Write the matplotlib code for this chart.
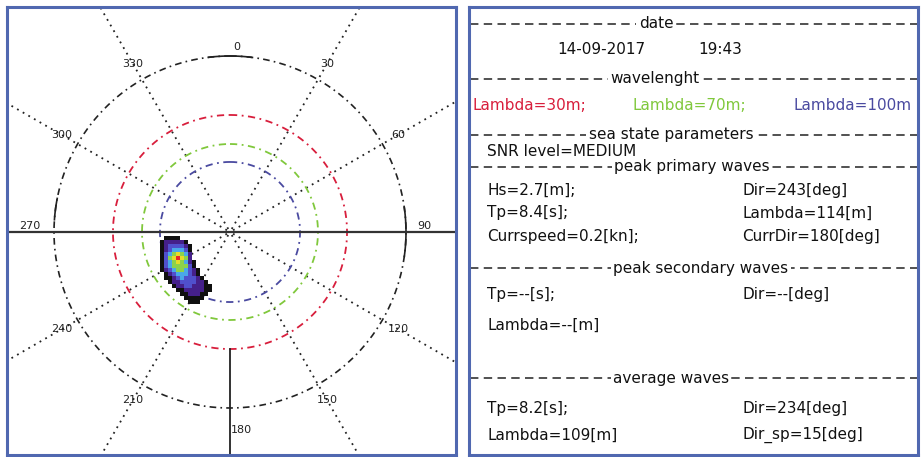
import numpy as np
import matplotlib
matplotlib.use('Agg')
import matplotlib.pyplot as plt
from matplotlib.colors import ListedColormap, BoundaryNorm

# ---------------- data ----------------
compass_angles = [0, 30, 60, 90, 120, 150, 180, 210, 240, 270, 300, 330]
compass_labels = ['0', '30', '60', '90', '120', '150', '180', '210', '240', '270', '300', '330']
dotted_angles = [30, 60, 120, 150, 210, 240, 300, 330]
ring_lambdas = [30, 70, 100]
ring_radius = [0.665, 0.50, 0.398]
ring_colors = ['#d81e3c', '#80c83c', '#4a4aa0']
outer_radius = 1.0

# spectrum energy level (0 = none ... 7 = peak), rows top->bottom, cols left->right
spectrum_levels = np.array([
    [0, 1, 1, 1, 1, 0, 0, 0, 0, 0, 0, 0, 0],
    [1, 2, 2, 2, 2, 2, 1, 0, 0, 0, 0, 0, 0],
    [1, 2, 3, 3, 3, 3, 2, 1, 0, 0, 0, 0, 0],
    [1, 2, 3, 4, 4, 4, 3, 1, 0, 0, 0, 0, 0],
    [1, 3, 4, 5, 6, 5, 4, 2, 0, 0, 0, 0, 0],
    [1, 3, 5, 6, 7, 6, 5, 2, 0, 0, 0, 0, 0],
    [1, 3, 4, 5, 6, 5, 4, 2, 1, 0, 0, 0, 0],
    [1, 3, 4, 5, 5, 5, 5, 3, 1, 0, 0, 0, 0],
    [1, 2, 3, 4, 5, 5, 4, 3, 2, 1, 0, 0, 0],
    [0, 1, 2, 3, 4, 4, 4, 3, 2, 1, 0, 0, 0],
    [0, 1, 1, 2, 3, 4, 3, 3, 3, 2, 1, 0, 0],
    [0, 0, 1, 2, 2, 3, 3, 3, 3, 2, 2, 1, 0],
    [0, 0, 0, 1, 2, 2, 3, 3, 2, 2, 2, 1, 1],
    [0, 0, 0, 0, 1, 1, 2, 2, 2, 2, 2, 1, 1],
    [0, 0, 0, 0, 0, 1, 1, 2, 2, 2, 1, 1, 0],
    [0, 0, 0, 0, 0, 0, 1, 1, 1, 1, 1, 0, 0],
    [0, 0, 0, 0, 0, 0, 0, 1, 1, 1, 0, 0, 0],
])
spec_x_range = (-0.398, -0.102)
spec_y_range = (-0.023, -0.409)
level_colors = ['#101010', '#45208a', '#5050cc', '#4aa8e8', '#8cd24b', '#e6dc28', '#e62828']

date_str = '14-09-2017'
time_str = '19:43'
snr_level = 'MEDIUM'
primary = {'Hs': 2.7, 'Dir': 243, 'Tp': 8.4, 'Lambda': 114, 'Currspeed': 0.2, 'CurrDir': 180}
secondary = {'Tp': '--', 'Dir': '--', 'Lambda': '--'}
average = {'Tp': 8.2, 'Dir': 234, 'Lambda': 109, 'Dir_sp': 15}

# ---------------- figure ----------------
W, H = 922, 457
fig = plt.figure(figsize=(W / 100, H / 100), dpi=100)
border_col = '#5068b0'

def frac(x0, y0, x1, y1):
    return [x0 / W, 1 - y1 / H, (x1 - x0) / W, (y1 - y0) / H]

# left polar panel (cartesian with equal scale)
cx, cy, scale = 230.0, 232.0, 176.0
lx0, ly0, lx1, ly1 = 6.5, 6.5, 455.5, 454.5
ax = fig.add_axes(frac(lx0, ly0, lx1, ly1))
ax.set_xlim((lx0 - cx) / scale, (lx1 - cx) / scale)
ax.set_ylim((cy - ly1) / scale, (cy - ly0) / scale)
ax.set_xticks([]); ax.set_yticks([])
for s in ax.spines.values():
    s.set_color(border_col); s.set_linewidth(2.2)

def pol(a_deg, r):
    a = np.deg2rad(np.asarray(a_deg, dtype=float))
    return r * np.sin(a), r * np.cos(a)

th = np.linspace(0, 360, 721)
dashdot = (0, (4, 2.5, 1, 2.5))
# dotted radial lines
for a in dotted_angles:
    x, y = pol([a, a], np.array([0.02, 2.0]))
    ax.plot(x, y, color='#222222', lw=1.3, ls=(0, (1, 2.6)))
# outer circle
x, y = pol(th, outer_radius)
ax.plot(x, y, color='#222222', lw=1.2, ls=dashdot)
for a0, a1 in [(-7, 7), (82, 98), (274, 281)]:
    tt = np.linspace(a0, a1, 30)
    x, y = pol(tt, outer_radius)
    ax.plot(x, y, color='#222222', lw=1.2)
# wavelength rings
for r, c in zip(ring_radius, ring_colors):
    x, y = pol(th, r)
    ax.plot(x, y, color=c, lw=1.3, ls=dashdot)
# axes lines
ax.axhline(0, color='#333333', lw=1.6)
x, y = pol([180, 180], np.array([ring_radius[0], 2.0]))
ax.plot(x, y, color='#222222', lw=1.3)

# spectrum
cmap = ListedColormap(level_colors)
norm = BoundaryNorm(np.arange(0.5, len(level_colors) + 1.5), cmap.N)
nr, nc = spectrum_levels.shape
xe = np.linspace(spec_x_range[0], spec_x_range[1], nc + 1)
ye = np.linspace(spec_y_range[0], spec_y_range[1], nr + 1)
ax.pcolormesh(xe, ye, np.ma.masked_equal(spectrum_levels, 0), cmap=cmap, norm=norm, zorder=3)

# compass labels
for a, lab in zip(compass_angles, compass_labels):
    if a == 0:
        x, y = 0.04, 1.05
    elif a == 90:
        x, y = 1.105, 0.035
    elif a == 180:
        x, y = 0.065, -1.125
    elif a == 270:
        x, y = -1.135, 0.035
    else:
        x, y = pol(a, 1.105)
    ax.text(x, y, lab, fontsize=8, color='#222222', ha='center', va='center')

# right text panel
rx0, ry0, rx1, ry1 = 468.5, 6.5, 917.5, 454.5
tx = fig.add_axes(frac(rx0, ry0, rx1, ry1))
tx.set_xlim(rx0, rx1); tx.set_ylim(ry1, ry0)
tx.set_xticks([]); tx.set_yticks([])
for s in tx.spines.values():
    s.set_color(border_col); s.set_linewidth(2.2)

fs = 11
def sep(y, title, xc):
    tx.plot([470, 917], [y, y], color='#222222', lw=1.1, ls=(0, (5.5, 3.5)))
    tx.text(xc, y, title, fontsize=fs, ha='center', va='center', color='#111111',
            bbox=dict(boxstyle='square,pad=0.15', fc='white', ec='none'))

def txt(x, y, s, color='#111111'):
    tx.text(x, y, s, fontsize=fs, ha='left', va='center', color=color)

sep(24, 'date', 656)
txt(557, 50, date_str)
txt(698, 50, time_str)
sep(79, 'wavelenght', 655)
txt(472, 106, f'Lambda={ring_lambdas[0]}m;', ring_colors[0])
txt(632, 106, f'Lambda={ring_lambdas[1]}m;', ring_colors[1])
txt(793, 106, f'Lambda={ring_lambdas[2]}m', ring_colors[2])
sep(135, 'sea state parameters', 671)
txt(487, 151, f'SNR level={snr_level}')
sep(167, 'peak primary waves', 692)
txt(487, 190, f"Hs={primary['Hs']}[m];")
txt(742, 190, f"Dir={primary['Dir']}[deg]")
txt(487, 213, f"Tp={primary['Tp']}[s];")
txt(742, 213, f"Lambda={primary['Lambda']}[m]")
txt(487, 237, f"Currspeed={primary['Currspeed']}[kn];")
txt(742, 237, f"CurrDir={primary['CurrDir']}[deg]")
sep(268, 'peak secondary waves', 701)
txt(487, 294, f"Tp={secondary['Tp']}[s];")
txt(742, 294, f"Dir={secondary['Dir']}[deg]")
txt(487, 325, f"Lambda={secondary['Lambda']}[m]")
sep(378, 'average waves', 671)
txt(487, 408, f"Tp={average['Tp']}[s];")
txt(742, 408, f"Dir={average['Dir']}[deg]")
txt(487, 435, f"Lambda={average['Lambda']}[m]")
txt(742, 435, f"Dir_sp={average['Dir_sp']}[deg]")

fig.savefig('out.png', dpi=100)
